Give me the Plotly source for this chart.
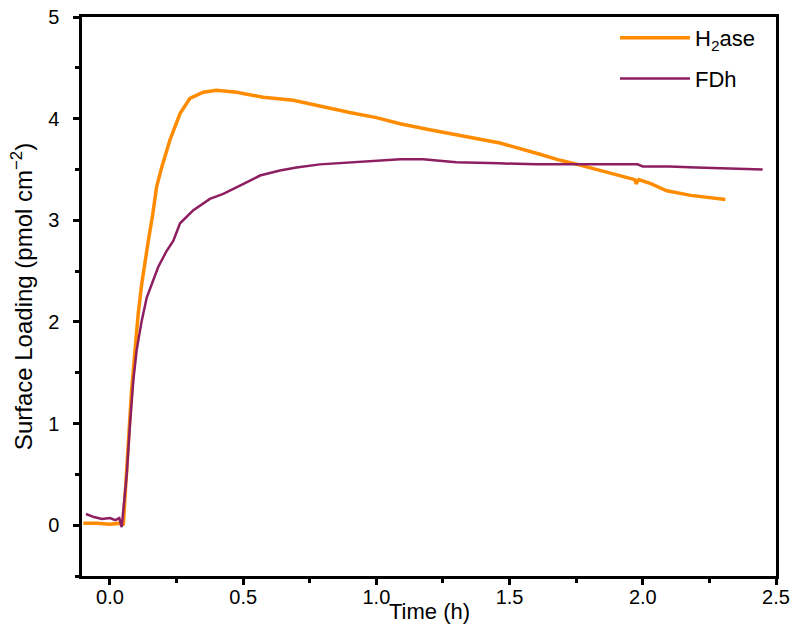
import plotly.graph_objects as go

# H2ase (orange) trace
h2_t = [-0.10, -0.05, 0.00, 0.04, 0.05, 0.069, 0.081, 0.094, 0.106, 0.119, 0.131, 0.144,
        0.160, 0.175, 0.194, 0.225, 0.263, 0.30, 0.35, 0.40, 0.476, 0.575, 0.688, 0.788,
        0.90, 1.00, 1.089, 1.20, 1.30, 1.464, 1.614, 1.69, 1.74, 1.864, 1.93, 1.97, 1.975,
        1.985, 2.03, 2.09, 2.18, 2.24, 2.31]
h2_v = [0.02, 0.02, 0.01, 0.02, 0.00, 0.83, 1.32, 1.72, 2.08, 2.37, 2.60, 2.80,
        3.05, 3.33, 3.52, 3.79, 4.05, 4.20, 4.26, 4.28, 4.26, 4.21, 4.18, 4.12,
        4.06, 4.01, 3.95, 3.89, 3.84, 3.76, 3.65, 3.59, 3.56, 3.47, 3.43, 3.40, 3.36,
        3.40, 3.36, 3.29, 3.245, 3.23, 3.205]

# FDh (purple) trace
fdh_t = [-0.09, -0.06, -0.03, 0.00, 0.02, 0.035, 0.044, 0.063, 0.075, 0.0875, 0.10, 0.119,
         0.138, 0.156, 0.181, 0.213, 0.238, 0.263, 0.313, 0.375, 0.425, 0.488, 0.563, 0.638,
         0.70, 0.788, 0.90, 1.00, 1.09, 1.175, 1.30, 1.46, 1.60, 1.75, 1.90, 1.98, 2.00,
         2.10, 2.20, 2.30, 2.45]
fdh_v = [0.11, 0.08, 0.06, 0.07, 0.05, 0.07, -0.02, 0.50, 0.99, 1.42, 1.72, 2.01,
         2.24, 2.37, 2.54, 2.70, 2.80, 2.97, 3.10, 3.21, 3.26, 3.34, 3.44, 3.49,
         3.52, 3.55, 3.57, 3.59, 3.60, 3.60, 3.57, 3.56, 3.55, 3.55, 3.55, 3.55, 3.53,
         3.53, 3.52, 3.51, 3.50]

x_ticks = [0.0, 0.5, 1.0, 1.5, 2.0, 2.5]
x_ticklabels = ["0.0", "0.5", "1.0", "1.5", "2.0", "2.5"]
y_ticks = [0, 1, 2, 3, 4, 5]

ORANGE = "#FF8C00"
PURPLE = "#8E1E62"
FONT = "Liberation Sans, Arial, sans-serif"

fig = go.Figure()
fig.add_trace(go.Scatter(x=h2_t, y=h2_v, mode="lines", name="H<sub>2</sub>ase",
                         line=dict(color=ORANGE, width=3.5), legendgroup="a"))
fig.add_trace(go.Scatter(x=fdh_t, y=fdh_v, mode="lines", name="FDh",
                         line=dict(color=PURPLE, width=2.5), legendgroup="b"))

axis_common = dict(showline=True, linecolor="black", linewidth=2.5, mirror=True,
                   showgrid=False, zeroline=False, ticks="outside", ticklen=6,
                   tickwidth=2.5, tickcolor="black", automargin=False,
                   tickfont=dict(family=FONT, size=20, color="black"))

fig.update_xaxes(range=[-0.105, 2.5], tickvals=x_ticks, ticktext=x_ticklabels,
                 ticklabelstandoff=-5,
                 minor=dict(dtick=0.25, ticks="outside", ticklen=4, tickwidth=2.5,
                            tickcolor="black"),
                 **axis_common)
fig.update_yaxes(range=[-0.5, 5], tickvals=y_ticks, ticklabelstandoff=10,
                 title=dict(text="Surface Loading (pmol cm<sup>−2</sup>)",
                            font=dict(family=FONT, size=24, color="black"), standoff=9),
                 minor=dict(dtick=0.5, ticks="outside", ticklen=4, tickwidth=2.5,
                            tickcolor="black"),
                 **axis_common)

fig.add_annotation(text="Time (h)", xref="paper", yref="paper", x=0.5, y=-0.0644,
                   xanchor="center", yanchor="middle", showarrow=False,
                   font=dict(family=FONT, size=22, color="black"))

fig.update_layout(
    width=800, height=637,
    margin=dict(l=82, r=24, t=17, b=61, autoexpand=False),
    plot_bgcolor="white", paper_bgcolor="white",
    font=dict(family=FONT, size=22, color="black"),
    legend=dict(x=0.768, y=1.0, xanchor="left", yanchor="top",
                bgcolor="rgba(0,0,0,0)", borderwidth=0, tracegroupgap=9,
                itemwidth=70, font=dict(family=FONT, size=22, color="black")),
)

fig.write_html("out.html", config={"displayModeBar": False},
               post_script="document.body.style.margin='0';")
